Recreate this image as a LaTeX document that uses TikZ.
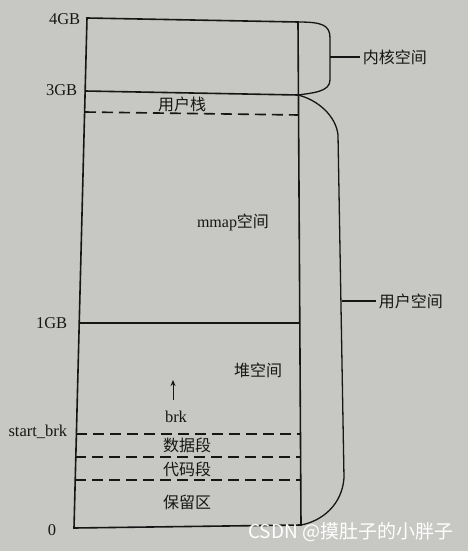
\documentclass[tikz,border=0pt]{standalone}
\usepackage{fontspec}
\setmainfont{Liberation Serif}
\newfontfamily\cjk{Noto Sans CJK SC}
\usetikzlibrary{positioning,calc,arrows.meta}
\definecolor{paper}{RGB}{199,199,195}
\definecolor{ink}{RGB}{22,22,22}

\begin{document}
\begin{tikzpicture}[x=1pt,y=-1pt,line width=1.6pt,draw=ink,text=ink,
                    seg line/.style={dash pattern=on 11pt off 6pt},
                    seg label/.style={font=\cjk\fontsize{16}{18}\selectfont,inner sep=0pt},
                    addr label/.style={font=\fontsize{16.5}{18}\selectfont,anchor=east,inner sep=0pt},
                    brace line/.style={line width=1.3pt}]

  \fill[paper] (0,0) rectangle (468,551);

  % memory box
  \coordinate (tl) at (87,18);
  \coordinate (tr) at (298,22);
  \coordinate (bl) at (74,528);
  \coordinate (br) at (301,525);
  \draw (tl) -- (tr) -- (br) -- (bl) -- cycle;

  % solid boundaries
  \coordinate (g3l) at (85,91);
  \coordinate (g3r) at (298,95);
  \coordinate (g1l) at (79,323);
  \coordinate (g1r) at (300,323);
  \draw (g3l) -- (g3r);
  \draw (g1l) -- (g1r);

  % dashed boundaries
  \coordinate (stl) at (85,112);
  \coordinate (str) at (298,115);
  \coordinate (sbl) at (76,434);
  \coordinate (sbr) at (300,434);
  \coordinate (dtl) at (75,457);
  \coordinate (dtr) at (300,457);
  \coordinate (cdl) at (75,480);
  \coordinate (cdr) at (300,480);
  \foreach \a/\b in {stl/str,sbl/sbr,dtl/dtr,cdl/cdr}
    \draw[seg line] (\a) -- (\b);

  % addresses
  \node[addr label] (a4) at (81,19) {4GB};
  \node[addr label] (a3) at (78,90) {3GB};
  \node[addr label] (a1) at (68,323) {1GB};
  \node[addr label] (as) at (68,432) {start\_brk};
  \node[addr label,anchor=center] (a0) at (52,530) {0};

  % segments
  \node[seg label] (stack) at (182,104) {用户栈};
  \node[seg label] (mmap) at (233,222) {{\rmfamily mmap}空间};
  \node[seg label] (heap) at (258,370) {堆空间};
  \node[seg label] (data) at (187,445) {数据段};
  \node[seg label] (code) at (187,469) {代码段};
  \node[seg label] (resv) at (187,502) {保留区};
  \node[addr label,anchor=center] (brk) at (176,417) {brk};
  \coordinate (brktip) at (173,380);
  \draw[-{Stealth[length=6pt,width=5pt]},line width=1pt] (173,400) -- (brktip);

  % kernel space brace
  \draw[brace line] (tr) .. controls (322,22) and (330,25) .. (330,38)
    -- (330,80) .. controls (330,92) and (312,93) .. (g3r);
  \coordinate (kt) at (330,57);
  \node[seg label,anchor=west,inner sep=2pt] (kern) at (360,57) {内核空间};
  \draw[brace line] (kt) -- (kern);

  % user space brace
  \draw[brace line] (g3r) .. controls (318,100) and (336,116) .. (338,135)
    -- (344,478) .. controls (342,505) and (322,521) .. (br);
  \coordinate (ut) at (342,301);
  \node[seg label,anchor=west,inner sep=2pt] (user) at (376,301) {用户空间};
  \draw[brace line] (ut) -- (user);

  % watermark
  \node[font=\cjk\fontsize{19}{21}\selectfont,text=white,anchor=east,inner sep=0pt]
    (wm) at (454,532) {CSDN @摸肚子的小胖子};

\end{tikzpicture}
\end{document}
